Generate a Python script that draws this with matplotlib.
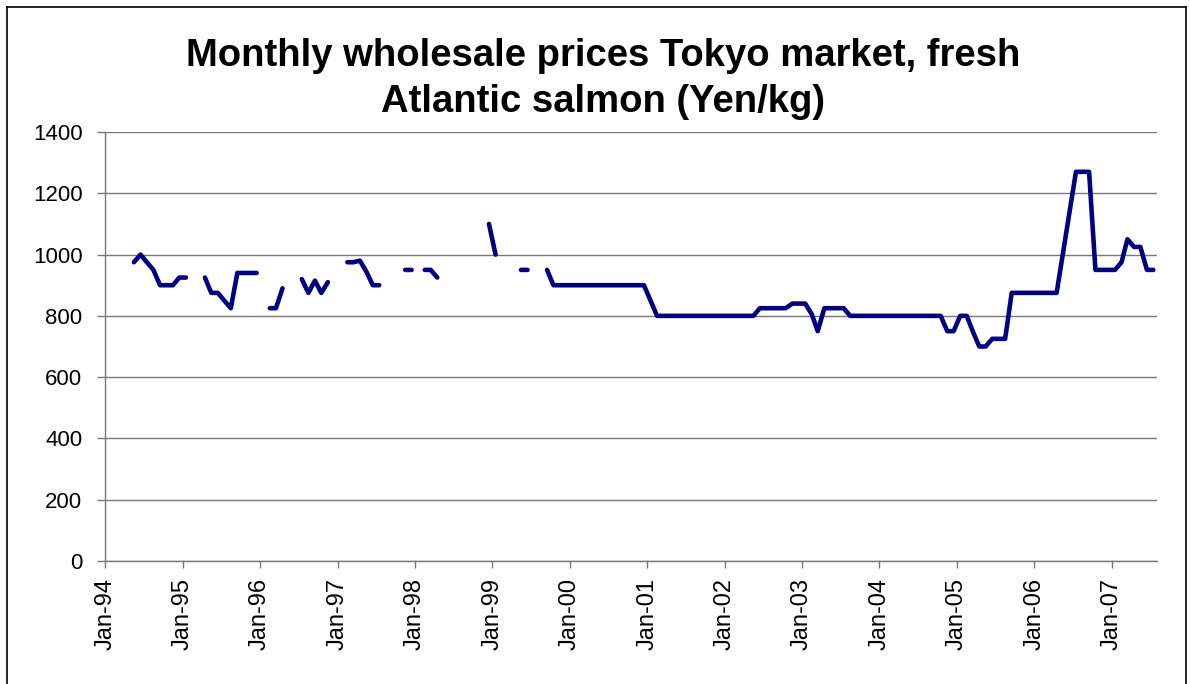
import numpy as np
import pandas as pd
import matplotlib
matplotlib.use('Agg')
import matplotlib.pyplot as plt
import matplotlib.dates as mdates
from matplotlib.lines import Line2D

# --- Dados (Yen/kg), um valor por mês, nan = sem dado ---
nan = np.nan
precos1994 = [nan, nan, nan, nan, 975, 1000, 975, 950, 900, 900, 900, 925]
precos1995 = [925, nan, nan, 925, 875, 875, 850, 825, 940, 940, 940, 940]
precos1996 = [nan, 825, 825, 890, nan, nan, 920, 875, 915, 875, 910, nan]
precos1997 = [nan, 975, 975, 980, 945, 900, 900, nan, nan, nan, 950, 950]
precos1998 = [nan, 950, 950, 925, nan, nan, nan, nan, nan, nan, nan, 1100]
precos1999 = [1000, nan, nan, nan, 950, 950, nan, nan, 950, 900, 900, 900]
precos2000 = [900, 900, 900, 900, 900, 900, 900, 900, 900, 900, 900, 900]
precos2001 = [850, 800, 800, 800, 800, 800, 800, 800, 800, 800, 800, 800]
precos2002 = [800, 800, 800, 800, 800, 825, 825, 825, 825, 825, 840, 840]
precos2003 = [840, 805, 750, 825, 825, 825, 825, 800, 800, 800, 800, 800]
precos2004 = [800, 800, 800, 800, 800, 800, 800, 800, 800, 800, 750, 750]
precos2005 = [800, 800, 750, 700, 700, 725, 725, 725, 875, 875, 875, 875]
precos2006 = [875, 875, 875, 875, 1005, 1140, 1270, 1270, 1270, 950, 950, 950]
precos2007 = [950, 975, 1050, 1025, 1025, 950, 950]

precos = (precos1994 + precos1995 + precos1996 + precos1997 + precos1998
          + precos1999 + precos2000 + precos2001 + precos2002 + precos2003
          + precos2004 + precos2005 + precos2006 + precos2007)

# pontos no meio de cada mês (eixo de datas estilo Excel)
meses = pd.date_range('1994-01-01', periods=len(precos), freq='MS') + pd.Timedelta(days=15)
anosTicks = pd.date_range('1994-01-01', '2007-01-01', freq='YS')
valoresY = [0, 200, 400, 600, 800, 1000, 1200, 1400]

plt.rcParams['font.family'] = ['Liberation Sans', 'DejaVu Sans']

fig = plt.figure(figsize=(11.9, 6.84), dpi=100)
ax = fig.add_axes([105.3 / 1190, 1 - 561 / 684, (1156.7 - 105.3) / 1190, (561 - 132) / 684])

ax.plot(meses, precos, color='#000080', linewidth=3.3,
        solid_joinstyle='round', solid_capstyle='round')

ax.set_xlim(pd.Timestamp('1994-01-01'), pd.Timestamp('2007-08-01'))
ax.set_ylim(0, 1400)
ax.set_yticks(valoresY)
ax.set_xticks(anosTicks)
ax.xaxis.set_major_formatter(mdates.DateFormatter('%b-%y'))

ax.yaxis.grid(True, color='#777777', linewidth=1)
ax.set_axisbelow(True)
for lado in ['top', 'right']:
    ax.spines[lado].set_visible(False)
for lado in ['left', 'bottom']:
    ax.spines[lado].set_color('#777777')
    ax.spines[lado].set_linewidth(1)

ax.tick_params(axis='y', direction='out', length=6, width=1, color='#777777',
               labelsize=16, pad=10.5)
ax.tick_params(axis='x', direction='out', length=5, width=1, color='#777777',
               labelsize=17, pad=7, labelrotation=90)

fig.text(603 / 1190, 1 - 66 / 684, 'Monthly wholesale prices Tokyo market, fresh',
         ha='center', va='baseline', fontsize=27.5, fontweight='bold')
fig.text(603 / 1190, 1 - 112 / 684, 'Atlantic salmon (Yen/kg)',
         ha='center', va='baseline', fontsize=27.5, fontweight='bold')

# moldura da área do gráfico
for xs, ys in [([7 / 1190, 7 / 1190], [0, 1 - 7 / 684]),
               ([7 / 1190, 1186 / 1190], [1 - 7 / 684, 1 - 7 / 684]),
               ([1186 / 1190, 1186 / 1190], [1 - 7 / 684, 0])]:
    fig.add_artist(Line2D(xs, ys, transform=fig.transFigure, color='black', linewidth=1.2))

fig.savefig('out.png', dpi=100)
